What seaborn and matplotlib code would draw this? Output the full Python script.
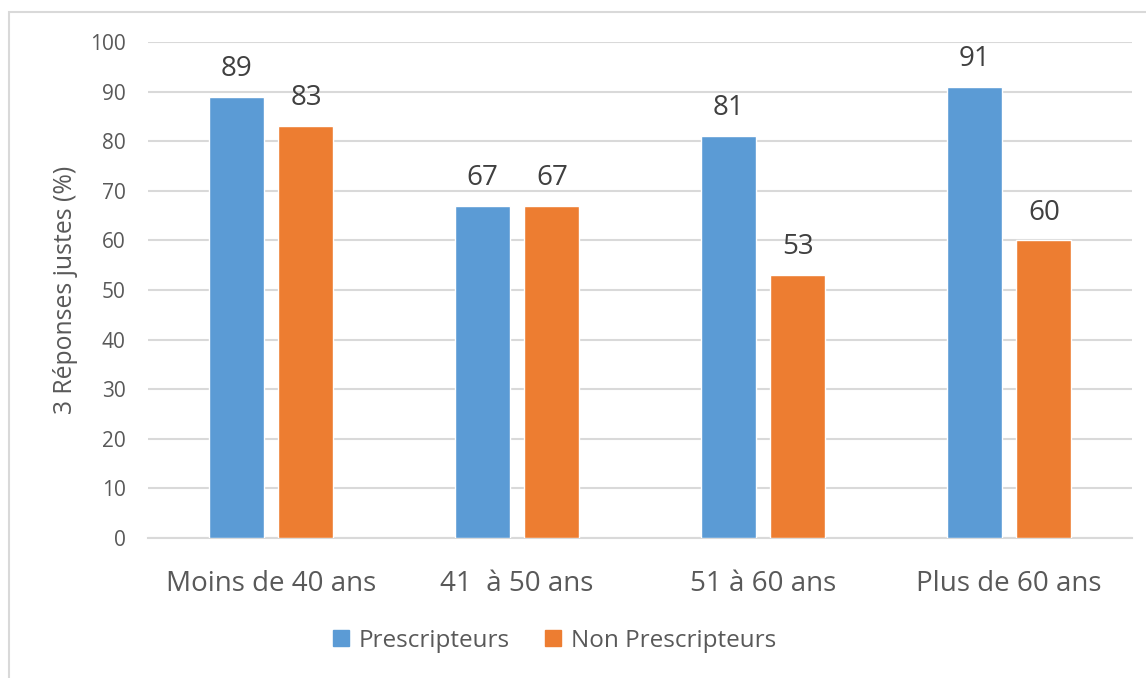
import matplotlib
matplotlib.use("Agg")
import matplotlib.pyplot as plt
import seaborn as sns
import pandas as pd
from matplotlib.patches import Rectangle
from matplotlib.lines import Line2D

categories = ["Moins de 40 ans", "41  à 50 ans", "51 à 60 ans", "Plus de 60 ans"]
series_names = ["Prescripteurs", "Non Prescripteurs"]
prescripteurs = [89, 67, 81, 91]
non_prescripteurs = [83, 67, 53, 60]
colors = ["#5B9BD5", "#ED7D31"]
yticks = list(range(0, 101, 10))

df = pd.DataFrame({
    "cat": categories * 2,
    "serie": [series_names[0]] * 4 + [series_names[1]] * 4,
    "val": prescripteurs + non_prescripteurs,
})

sns.set_theme(style="white")
plt.rcParams["font.family"] = ["Open Sans", "DejaVu Sans"]
txt = "#595959"

fig = plt.figure(figsize=(11.46, 6.78), dpi=100)
ax = fig.add_axes([148 / 1146, 1 - 538 / 678, 984 / 1146, 496 / 678])

sns.barplot(data=df, x="cat", y="val", hue="serie", order=categories,
            hue_order=series_names, palette=colors, width=0.569, gap=0.214,
            saturation=1, ax=ax, legend=False, zorder=3)

for cont in ax.containers:
    ax.bar_label(cont, padding=10, fontsize=20, color="#404040")

ax.set_ylim(0, 100)
ax.set_xlim(-0.5, 3.5)
ax.set_yticks(yticks)
ax.set_yticklabels([str(t) for t in yticks], fontsize=15, color=txt)
ax.tick_params(axis="y", length=0, pad=16)
ax.tick_params(axis="x", length=0, pad=23, labelsize=20, labelcolor=txt)
ax.grid(axis="y", color="#D9D9D9", linewidth=1.5, zorder=0)
ax.set_axisbelow(True)
for s in ["left", "right", "top"]:
    ax.spines[s].set_visible(False)
ax.spines["bottom"].set_color("#D9D9D9")
ax.spines["bottom"].set_linewidth(1.5)
ax.set_xlabel("")
ax.set_ylabel("3 Réponses justes (%)", fontsize=17.8, color=txt, va="center")
ax.yaxis.set_label_coords((65 - 148) / 984, 0.5)

handles = [Line2D([0], [0], marker="s", linestyle="", markersize=12,
                  markerfacecolor=c, markeredgecolor=c) for c in colors]
fig.legend(handles, series_names, loc="center", bbox_to_anchor=(553 / 1146, 1 - 641 / 678),
           ncol=2, frameon=False, fontsize=17.5, labelcolor=txt, handletextpad=0.3,
           columnspacing=1.3, handlelength=0.9)

fig.patches.append(Rectangle((9 / 1146, -0.1), 1.2, 1 - 12 / 678 + 0.1, transform=fig.transFigure,
                             fill=False, edgecolor="#D9D9D9", linewidth=1.5))

fig.savefig("out.png", dpi=100)
